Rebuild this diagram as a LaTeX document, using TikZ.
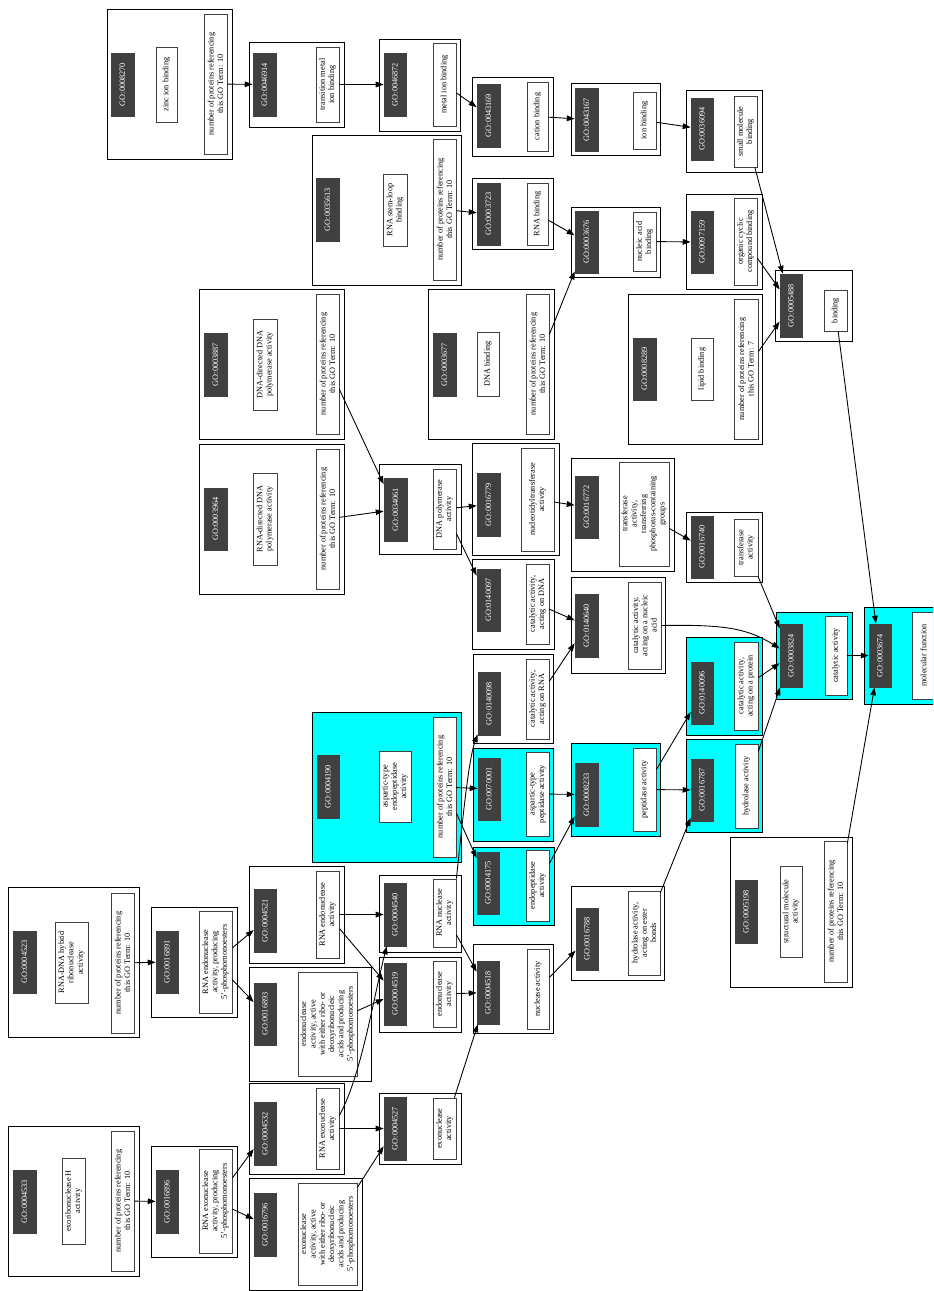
\documentclass[tikz,border=0pt]{standalone}
\usepackage{fontspec}
\setmainfont{Liberation Serif}
\usetikzlibrary{arrows.meta,calc}
\definecolor{IdGray}{RGB}{64,64,64}
\definecolor{CyanM}{RGB}{0,255,255}
\newcommand{\nprot}{number of proteins referencing\\this GO Term: 10}
\tikzset{
  cell/.style args={#1,#2,#3,#4}{rotate=90,align=center,inner sep=0pt,
    at={({(#1+#3)/2},{(#2+#4)/2})},
    minimum width={(#4-#2)*0.02cm},minimum height={(#3-#1)*0.02cm}},
  goid/.style={fill=IdGray,draw=IdGray,text=white},
  goname/.style={fill=white,draw=black!75,line width=0.4pt},
  recbox/.style={fill=white,draw=black,line width=0.45pt},
  hitbox/.style={fill=CyanM,draw=black,line width=0.45pt},
  isa/.style={-{Triangle[length=4.5pt,width=3.2pt]},line width=0.5pt},
}
\begin{document}
\begin{tikzpicture}[x=0.02cm,y=-0.02cm,font=\fontsize{4.7}{5.3}\selectfont]
\useasboundingbox (0,0) rectangle (933,1291);
\clip (0,0) rectangle (933,1291);

\draw[recbox] (107,9) rectangle (232,159);
\node[goid,cell={111,53,134,116}] (id8270) {GO:0008270};
\node[goname,cell={156,47,177,122}] (nm8270) {zinc ion binding};
\node[goname,cell={204,14,227,154}] (ct8270) {\nprot};

\draw[recbox] (249,42) rectangle (344,127);
\node[goid,cell={253,53,276,116}] (id46914) {GO:0046914};
\node[goname,cell={316,47,339,122}] (nm46914) {transition metal\\ion binding};

\draw[recbox] (379,39) rectangle (460,131);
\node[goid,cell={384,53,406,116}] (id46872) {GO:0046872};
\node[goname,cell={433,43,456,126}] (nm46872) {metal ion binding};

\draw[recbox] (312,135) rectangle (461,285);
\node[goid,cell={316,178,339,241}] (id35613) {GO:0035613};
\node[goname,cell={383,174,407,246}] (nm35613) {RNA stem-loop\\binding};
\node[goname,cell={433,139,456,280}] (ct35613) {\nprot};

\draw[recbox] (472,77) rectangle (553,156);
\node[goid,cell={477,84,500,147}] (id43169) {GO:0043169};
\node[goname,cell={527,82,548,151}] (nm43169) {cation binding};

\draw[recbox] (571,83) rectangle (660,155);
\node[goid,cell={575,88,598,151}] (id43167) {GO:0043167};
\node[goname,cell={633,92,656,149}] (nm43167) {ion binding};

\draw[recbox] (686,90) rectangle (762,172);
\node[goid,cell={691,98,713,160}] (id36094) {GO:0036094};
\node[goname,cell={734,96,757,167}] (nm36094) {small molecule\\binding};

\draw[recbox] (472,178) rectangle (553,249);
\node[goid,cell={477,183,500,245}] (id3723) {GO:0003723};
\node[goname,cell={527,183,548,245}] (nm3723) {RNA binding};

\draw[recbox] (571,207) rectangle (660,277);
\node[goid,cell={575,211,598,273}] (id3676) {GO:0003676};
\node[goname,cell={633,212,656,271}] (nm3676) {nucleic acid\\binding};

\draw[recbox] (686,194) rectangle (762,289);
\node[goid,cell={691,211,713,273}] (id97159) {GO:0097159};
\node[goname,cell={734,198,757,285}] (nm97159) {organic cyclic\\compound binding};

\draw[recbox] (775,270) rectangle (852,341);
\node[goid,cell={780,274,802,337}] (id5488) {GO:0005488};
\node[goname,cell={824,290,847,331}] (nm5488) {binding};

\draw[recbox] (628,294) rectangle (762,444);
\node[goid,cell={633,338,656,400}] (id8289) {GO:0008289};
\node[goname,cell={691,338,713,400}] (nm8289) {lipid binding};
\node[goname,cell={734,299,758,439}] (ct8289) {number of proteins referencing\\this GO Term: 7};

\draw[recbox] (199,289) rectangle (344,439);
\node[goid,cell={204,333,227,396}] (id3887) {GO:0003887};
\node[goname,cell={253,319,277,410}] (nm3887) {DNA-directed DNA\\polymerase activity};
\node[goname,cell={316,294,339,434}] (ct3887) {\nprot};

\draw[recbox] (199,444) rectangle (344,594);
\node[goid,cell={204,488,227,550}] (id3964) {GO:0003964};
\node[goname,cell={253,473,277,565}] (nm3964) {RNA-directed DNA\\polymerase activity};
\node[goname,cell={316,449,339,589}] (ct3964) {\nprot};

\draw[recbox] (379,464) rectangle (461,554);
\node[goid,cell={384,478,407,541}] (id34061) {GO:0034061};
\node[goname,cell={433,469,456,549}] (nm34061) {DNA polymerase\\activity};

\draw[recbox] (428,289) rectangle (554,439);
\node[goid,cell={433,333,456,396}] (id3677) {GO:0003677};
\node[goname,cell={477,332,499,396}] (nm3677) {DNA binding};
\node[goname,cell={526,294,549,434}] (ct3677) {\nprot};

\draw[recbox] (472,443) rectangle (559,555);
\node[goid,cell={477,473,500,536}] (id16779) {GO:0016779};
\node[goname,cell={521,448,554,551}] (nm16779) {nucleotidyltransferase\\activity};

\draw[recbox] (472,559) rectangle (554,649);
\node[goid,cell={477,569,500,631}] (id140097) {GO:0140097};
\node[goname,cell={526,564,549,644}] (nm140097) {catalytic activity,\\acting on DNA};

\draw[recbox] (571,458) rectangle (674,571);
\node[goid,cell={575,476,598,538}] (id16772) {GO:0016772};
\node[goname,cell={619,462,669,566}] (nm16772) {transferase\\activity,\\transferring\\phosphorus-containing\\groups};

\draw[recbox] (686,512) rectangle (762,582);
\node[goid,cell={691,516,713,578}] (id16740) {GO:0016740};
\node[goname,cell={734,519,758,576}] (nm16740) {transferase\\activity};

\draw[recbox] (571,577) rectangle (665,673);
\node[goid,cell={575,594,598,657}] (id140640) {GO:0140640};
\node[goname,cell={628,582,661,669}] (nm140640) {catalytic activity,\\acting on a nucleic\\acid};

\draw[hitbox] (776,612) rectangle (852,699);
\node[goid,cell={780,624,802,687}] (id3824) {GO:0003824};
\node[goname,cell={825,616,847,695}] (nm3824) {catalytic activity};

\draw[hitbox] (864,607) rectangle (940,704);
\node[goid,cell={869,624,891,687}] (id3674) {GO:0003674};
\node[goname,cell={912,612,935,699}] (nm3674) {molecular function};

\draw[hitbox] (686,637) rectangle (762,735);
\node[goid,cell={691,662,713,724}] (id140096) {GO:0140096};
\node[goname,cell={734,642,758,730}] (nm140096) {catalytic activity,\\acting on a protein};

\draw[hitbox] (686,739) rectangle (762,832);
\node[goid,cell={691,759,713,821}] (id16787) {GO:0016787};
\node[goname,cell={735,744,758,828}] (nm16787) {hydrolase activity};

\draw[hitbox] (571,743) rectangle (660,836);
\node[goid,cell={575,763,598,826}] (id8233) {GO:0008233};
\node[goname,cell={633,748,656,831}] (nm8233) {peptidase activity};

\draw[recbox] (730,837) rectangle (852,987);
\node[goid,cell={735,880,757,943}] (id5198) {GO:0005198};
\node[goname,cell={780,866,802,957}] (nm5198) {structural molecule\\activity};
\node[goname,cell={824,841,847,982}] (ct5198) {\nprot};

\draw[hitbox] (312,712) rectangle (461,862);
\node[goid,cell={317,755,339,818}] (id4190) {GO:0004190};
\node[goname,cell={379,751,411,822}] (nm4190) {aspartic-type\\endopeptidase\\activity};
\node[goname,cell={433,717,456,857}] (ct4190) {\nprot};

\draw[recbox] (473,654) rectangle (553,743);
\node[goid,cell={478,672,500,735}] (id140098) {GO:0140098};
\node[goname,cell={526,659,549,739}] (nm140098) {catalytic activity,\\acting on RNA};

\draw[hitbox] (473,748) rectangle (553,841);
\node[goid,cell={478,758,500,820}] (id70001) {GO:0070001};
\node[goname,cell={526,752,549,836}] (nm70001) {aspartic-type\\peptidase activity};

\draw[hitbox] (473,847) rectangle (554,925);
\node[goid,cell={477,852,499,914}] (id4175) {GO:0004175};
\node[goname,cell={526,850,549,921}] (nm4175) {endopeptidase\\activity};

\draw[recbox] (571,886) rectangle (664,980);
\node[goid,cell={576,908,598,970}] (id16788) {GO:0016788};
\node[goname,cell={628,891,660,975}] (nm16788) {hydrolase activity,\\acting on ester\\bonds};

\draw[recbox] (379,875) rectangle (461,952);
\node[goid,cell={384,883,406,946}] (id4540) {GO:0004540};
\node[goname,cell={433,879,456,947}] (nm4540) {RNA nuclease\\activity};

\draw[recbox] (379,957) rectangle (461,1032);
\node[goid,cell={384,963,406,1025}] (id4519) {GO:0004519};
\node[goname,cell={433,961,456,1027}] (nm4519) {endonuclease\\activity};

\draw[recbox] (473,944) rectangle (553,1033);
\node[goid,cell={477,961,499,1024}] (id4518) {GO:0004518};
\node[goname,cell={527,949,549,1029}] (nm4518) {nuclease activity};

\draw[recbox] (8,887) rectangle (139,1037);
\node[goid,cell={13,931,36,993}] (id4523) {GO:0004523};
\node[goname,cell={55,922,88,1003}] (nm4523) {RNA-DNA hybrid\\ribonuclease\\activity};
\node[goname,cell={111,893,134,1033}] (ct4523) {\nprot};

\draw[recbox] (151,907) rectangle (237,1017);
\node[goid,cell={156,931,178,993}] (id16891) {GO:0016891};
\node[goname,cell={199,911,232,1013}] (nm16891) {RNA endonuclease\\activity, producing\\5'-phosphomonoesters};

\draw[recbox] (249,866) rectangle (344,963);
\node[goid,cell={254,889,276,952}] (id4521) {GO:0004521};
\node[goname,cell={316,871,339,958}] (nm4521) {RNA endonuclease\\activity};

\draw[recbox] (249,967) rectangle (371,1081);
\node[goid,cell={254,983,276,1045}] (id16893) {GO:0016893};
\node[goname,cell={298,972,357,1076}] (nm16893) {endonuclease\\activity, active\\with either ribo- or\\deoxyribonucleic\\acids and producing\\5'-phosphomonoesters};

\draw[recbox] (8,1126) rectangle (139,1276);
\node[goid,cell={13,1170,36,1233}] (id4533) {GO:0004533};
\node[goname,cell={62,1158,85,1244}] (nm4533) {exoribonuclease H\\activity};
\node[goname,cell={111,1131,134,1271}] (ct4533) {\nprot};

\draw[recbox] (151,1146) rectangle (237,1257);
\node[goid,cell={156,1170,178,1233}] (id16896) {GO:0016896};
\node[goname,cell={199,1149,232,1253}] (nm16896) {RNA exonuclease\\activity, producing\\5'-phosphomonoesters};

\draw[recbox] (249,1083) rectangle (344,1174);
\node[goid,cell={254,1102,276,1165}] (id4532) {GO:0004532};
\node[goname,cell={316,1088,339,1169}] (nm4532) {RNA exonuclease\\activity};

\draw[recbox] (249,1178) rectangle (362,1290);
\node[goid,cell={254,1193,276,1256}] (id16796) {GO:0016796};
\node[goname,cell={298,1183,357,1285}] (nm16796) {exonuclease\\activity, active\\with either ribo- or\\deoxyribonucleic\\acids and producing\\5'-phosphomonoesters};

\draw[recbox] (379,1093) rectangle (461,1164);
\node[goid,cell={384,1097,406,1160}] (id4527) {GO:0004527};
\node[goname,cell={433,1098,456,1159}] (nm4527) {exonuclease\\activity};

\draw[isa] (ct8270) -- (id46914);
\draw[isa] (nm46914) -- (id46872);
\draw[isa] (nm46872) -- (id43169);
\draw[isa] (nm43169) -- (id43167);
\draw[isa] (nm43167) -- (id36094);
\draw[isa] (nm36094) -- (id5488);
\draw[isa] (ct35613) -- (id3723);
\draw[isa] (nm3723) -- (id3676);
\draw[isa] (ct3677) -- (id3676);
\draw[isa] (nm3676) -- (id97159);
\draw[isa] (nm97159) -- (id5488);
\draw[isa] (ct8289) -- (id5488);
\draw[isa] (nm5488) -- (id3674);
\draw[isa] (ct3887) -- (id34061);
\draw[isa] (ct3964) -- (id34061);
\draw[isa] (nm34061) -- (id16779);
\draw[isa] (nm34061) -- (id140097);
\draw[isa] (nm16779) -- (id16772);
\draw[isa] (nm16772) -- (id16740);
\draw[isa] (nm16740) -- (id3824);
\draw[isa] (nm140097) -- (id140640);
\draw[isa] (nm140098) -- (id140640);
\draw[isa] (nm140640.south) .. controls +(60,-1) and +(-45,-28) .. (id3824);
\draw[isa] (nm140096) -- (id3824);
\draw[isa] (nm16787) -- (id3824);
\draw[isa] (nm3824) -- (id3674);
\draw[isa] (ct5198) -- (id3674);
\draw[isa] (nm8233) -- (id140096);
\draw[isa] (nm8233) -- (id16787);
\draw[isa] (nm16788) -- (id16787);
\draw[isa] (ct4190) -- (id70001);
\draw[isa] (ct4190) -- (id4175);
\draw[isa] (nm70001) -- (id8233);
\draw[isa] (nm4175) -- (id8233);
\draw[isa] (nm4540.south east) .. controls +(5,-45) and +(-21,57) .. (id140098);
\draw[isa] (nm4540) -- (id4518);
\draw[isa] (nm4519) -- (id4518);
\draw[isa] (nm4518) -- (id16788);
\draw[isa] (nm4527) -- (id4518);
\draw[isa] (ct4523) -- (id16891);
\draw[isa] (nm16891) -- (id4521);
\draw[isa] (nm16891) -- (id16893);
\draw[isa] (nm4521) -- (id4540);
\draw[isa] (nm4521) -- (id4519);
\draw[isa] (nm16893) -- (id4519);
\draw[isa] (ct4533) -- (id16896);
\draw[isa] (nm16896) -- (id4532);
\draw[isa] (nm16896) -- (id16796);
\draw[isa] (nm4532) -- (id4527);
\draw[isa] ($(nm4532.south)+(0,-13)$) .. controls +(22,-40) and +(-22,85) .. (id4540);
\draw[isa] (nm16796) -- (id4527);
\end{tikzpicture}
\end{document}
